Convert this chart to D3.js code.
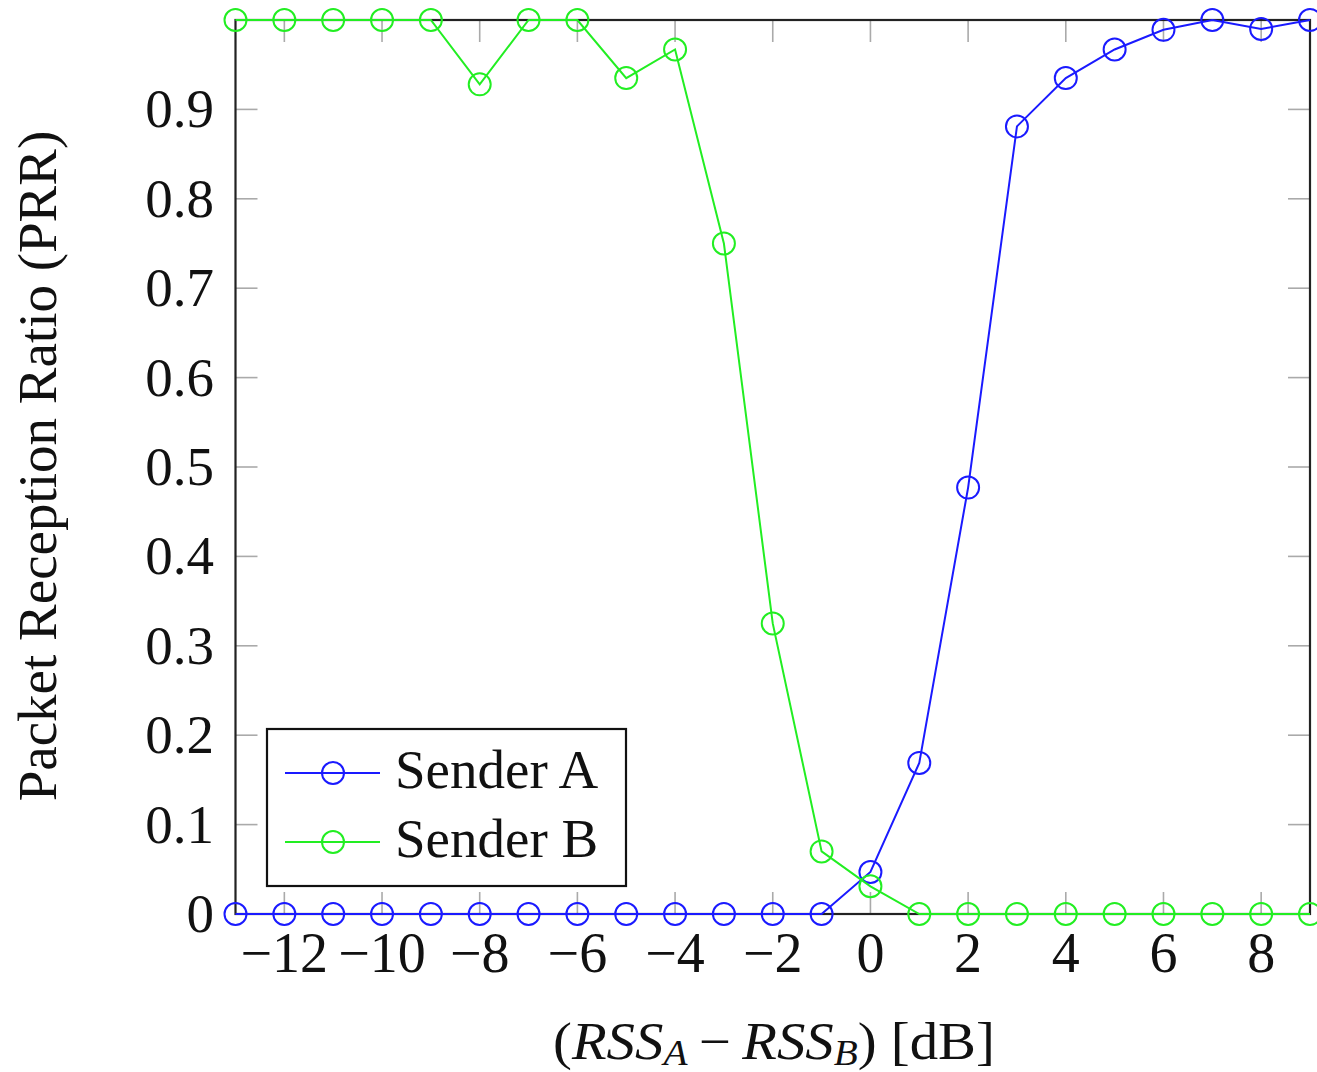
<!DOCTYPE html>
<html><head><meta charset="utf-8">
<script src="https://cdn.jsdelivr.net/npm/d3@7"></script>
<style>body{margin:0;background:#fff}svg{display:block}text{font-family:"Liberation Serif","Times New Roman",serif;fill:#111}</style>
</head><body>
<script>
const xValues = [-13,-12,-11,-10,-9,-8,-7,-6,-5,-4,-3,-2,-1,0,1,2,3,4,5,6,7,8,9];
const senderA = [0,0,0,0,0,0,0,0,0,0,0,0,0,0.047,0.169,0.477,0.881,0.935,0.967,0.989,1.0,0.99,1.0];
const senderB = [1,1,1,1,1,0.928,1,1,0.935,0.967,0.75,0.325,0.07,0.031,0,0,0,0,0,0,0,0,0];
const xTicks = [-12,-10,-8,-6,-4,-2,0,2,4,6,8];
const yTicks = [0,0.1,0.2,0.3,0.4,0.5,0.6,0.7,0.8,0.9];
const seriesNames = ["Sender A","Sender B"];
const seriesColors = ["#1a1aff","#22ee22"];

const W=1317,H=1072;
const svg=d3.select("body").append("svg").attr("width",W).attr("height",H);
const x=d3.scaleLinear().domain([-13,9]).range([235.5,1310]);
const y=d3.scaleLinear().domain([0,1]).range([914,20]);

const tickLen=22, tickColor="#aaa";
const g=svg.append("g");
xTicks.forEach(t=>{
  g.append("line").attr("x1",x(t)).attr("x2",x(t)).attr("y1",y(0)).attr("y2",y(0)-tickLen).attr("stroke",tickColor).attr("stroke-width",1.6);
  g.append("line").attr("x1",x(t)).attr("x2",x(t)).attr("y1",y(1)).attr("y2",y(1)+tickLen).attr("stroke",tickColor).attr("stroke-width",1.6);
});
yTicks.forEach(t=>{
  g.append("line").attr("x1",x(-13)).attr("x2",x(-13)+tickLen).attr("y1",y(t)).attr("y2",y(t)).attr("stroke",tickColor).attr("stroke-width",1.6);
  g.append("line").attr("x1",x(9)).attr("x2",x(9)-tickLen).attr("y1",y(t)).attr("y2",y(t)).attr("stroke",tickColor).attr("stroke-width",1.6);
});
g.append("rect").attr("x",x(-13)).attr("y",y(1)).attr("width",x(9)-x(-13)).attr("height",y(0)-y(1))
 .attr("fill","none").attr("stroke","#222").attr("stroke-width",2.2);

const fmtX=t=>t<0?"\u2212"+Math.abs(t):String(t);
xTicks.forEach(t=>{
  svg.append("text").attr("x",x(t)).attr("y",972).attr("text-anchor","middle").attr("font-size",56).text(fmtX(t));
});
yTicks.forEach(t=>{
  svg.append("text").attr("x",214).attr("y",y(t)+18).attr("text-anchor","end").attr("font-size",55).text(t===0?"0":String(t));
});

svg.append("text").attr("transform","translate(56,466) rotate(-90)").attr("text-anchor","middle").attr("font-size",55)
  .text("Packet Reception Ratio (PRR)");
const xl=svg.append("text").attr("x",0).attr("y",0).attr("font-size",52);
xl.append("tspan").text("(");
xl.append("tspan").attr("font-style","italic").text("RSS");
xl.append("tspan").attr("font-style","italic").attr("font-size",36).attr("dy",6).text("A");
xl.append("tspan").attr("dy",-6).text("\u2009\u2212\u2009");
xl.append("tspan").attr("font-style","italic").text("RSS");
xl.append("tspan").attr("font-style","italic").attr("font-size",36).attr("dy",6).text("B");
xl.append("tspan").attr("dy",-6).text(") [dB]");
const bb=xl.node().getBBox();
const sx=442/bb.width;
xl.attr("transform",`translate(${553-bb.x*sx},1059) scale(${sx},1)`);

const line=d3.line().x(d=>x(d[0])).y(d=>y(d[1]));
[senderA,senderB].forEach((vals,i)=>{
  const data=xValues.map((xv,j)=>[xv,vals[j]]);
  svg.append("path").datum(data).attr("d",line).attr("fill","none").attr("stroke",seriesColors[i]).attr("stroke-width",2);
  svg.append("g").selectAll("circle").data(data).join("circle")
    .attr("cx",d=>x(d[0])).attr("cy",d=>y(d[1])).attr("r",11)
    .attr("fill","none").attr("stroke",seriesColors[i]).attr("stroke-width",2);
});

const lg=svg.append("g");
lg.append("rect").attr("x",267).attr("y",729).attr("width",359).attr("height",157).attr("fill","#fff").attr("stroke","#111").attr("stroke-width",2.2);
seriesNames.forEach((n,i)=>{
  const ly=773+i*69;
  lg.append("line").attr("x1",285).attr("x2",380).attr("y1",ly).attr("y2",ly).attr("stroke",seriesColors[i]).attr("stroke-width",2);
  lg.append("circle").attr("cx",333).attr("cy",ly).attr("r",11).attr("fill","none").attr("stroke",seriesColors[i]).attr("stroke-width",2);
  lg.append("text").attr("x",395).attr("y",ly+15).attr("font-size",55).text(n);
});
</script>
</body></html>
